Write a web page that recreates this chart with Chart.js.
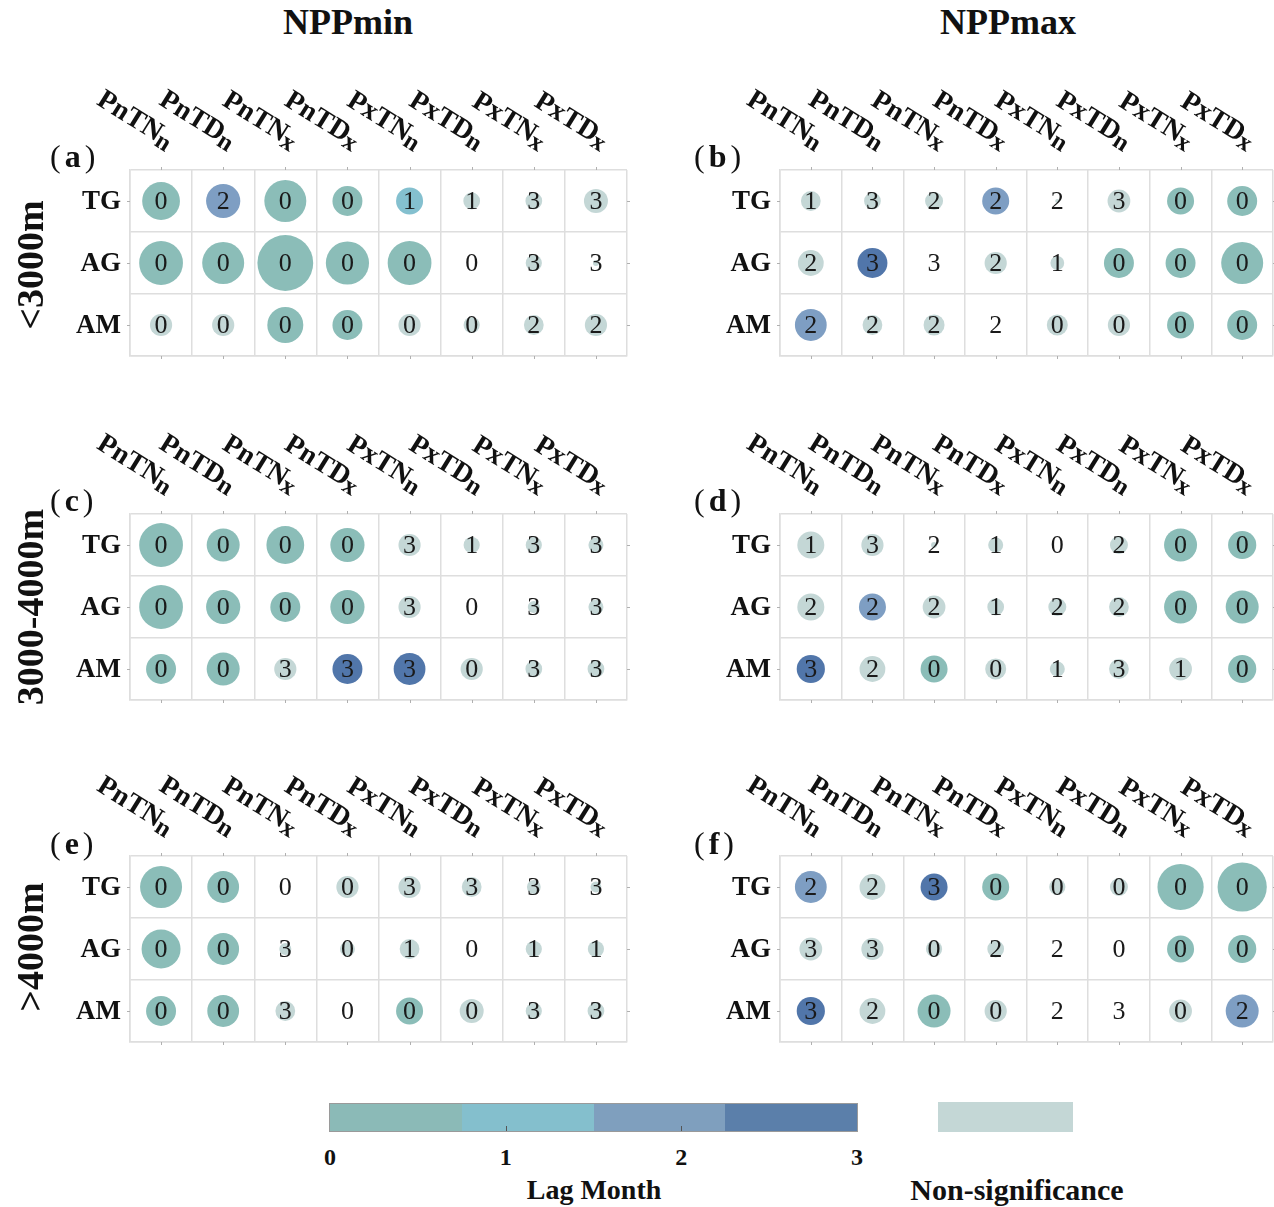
<!DOCTYPE html>
<html lang="en">
<head>
<meta charset="UTF-8">
<title>Lag month of NPP response</title>
<script src="https://cdn.jsdelivr.net/npm/chart.js"></script>
<style>
  body { margin: 0; background: #fff; }
  #wrap { position: relative; width: 1274px; height: 1207px; overflow: hidden;
          font-family: "Liberation Serif", "Times New Roman", serif; color: #111; }
  #wrap canvas { position: absolute; }
  .txt { position: absolute; white-space: nowrap; line-height: 1; }
  .title { font-weight: bold; font-size: 36px; transform: translate(-50%, -50%); }
  .group { font-weight: bold; font-size: 38px; transform: translate(-50%, -50%) rotate(-90deg); }
  .plab { font-size: 32px; letter-spacing: 4px; transform: translateY(-50%); }
  .plab b { font-weight: bold; }
  .cb { position: absolute; }
  .cbtick { position: absolute; font-weight: bold; font-size: 24px; transform: translate(-50%, -50%); line-height: 1; }
  .cbtitle { position: absolute; font-weight: bold; font-size: 28px; transform: translate(-50%, -50%); line-height: 1; }
</style>
</head>
<body>
<div id="wrap">
  <canvas id="pa" width="640" height="290" style="left:0;top:80px"></canvas>
  <canvas id="pb" width="634" height="290" style="left:640px;top:80px"></canvas>
  <canvas id="pc" width="640" height="290" style="left:0;top:424px"></canvas>
  <canvas id="pd" width="634" height="290" style="left:640px;top:424px"></canvas>
  <canvas id="pe" width="640" height="290" style="left:0;top:766px"></canvas>
  <canvas id="pf" width="634" height="290" style="left:640px;top:766px"></canvas>

  <div class="txt title" style="left:348px;top:22px">NPPmin</div>
  <div class="txt title" style="left:1008px;top:22px">NPPmax</div>

  <div class="txt group" style="left:30px;top:265px">&lt;3000m</div>
  <div class="txt group" style="left:30px;top:607px">3000-4000m</div>
  <div class="txt group" style="left:30px;top:947px">&gt;4000m</div>

  <div class="txt plab" style="left:50px;top:156px">(<b>a</b>)</div>
  <div class="txt plab" style="left:694px;top:156px">(<b>b</b>)</div>
  <div class="txt plab" style="left:50px;top:500px">(<b>c</b>)</div>
  <div class="txt plab" style="left:694px;top:500px">(<b>d</b>)</div>
  <div class="txt plab" style="left:50px;top:843px">(<b>e</b>)</div>
  <div class="txt plab" style="left:694px;top:843px">(<b>f</b>)</div>

  <div id="legend"></div>
</div>

<script>
// categories
const columns = ['PnTNn', 'PnTDn', 'PnTNx', 'PnTDx', 'PxTNn', 'PxTDn', 'PxTNx', 'PxTDx'];
const rows = ['TG', 'AG', 'AM'];
const lagTicks = ['0', '1', '2', '3'];

// lag month (number in each cell), rows TG / AG / AM
const lagA = [[0,2,0,0,1,1,3,3],[0,0,0,0,0,0,3,3],[0,0,0,0,0,0,2,2]];
const lagB = [[1,3,2,2,2,3,0,0],[2,3,3,2,1,0,0,0],[2,2,2,2,0,0,0,0]];
const lagC = [[0,0,0,0,3,1,3,3],[0,0,0,0,3,0,3,3],[0,0,3,3,3,0,3,3]];
const lagD = [[1,3,2,1,0,2,0,0],[2,2,2,1,2,2,0,0],[3,2,0,0,1,3,1,0]];
const lagE = [[0,0,0,0,3,3,3,3],[0,0,3,0,1,0,1,1],[0,0,3,0,0,0,3,3]];
const lagF = [[2,2,3,0,0,0,0,0],[3,3,0,2,2,0,0,0],[3,2,0,0,2,3,0,2]];

// significance (1 = significant, 0 = non-significance)
const sigA = [[1,1,1,1,1,0,0,0],[1,1,1,1,1,0,0,0],[0,0,1,1,0,0,0,0]];
const sigB = [[0,0,0,1,0,0,1,1],[0,1,0,0,0,1,1,1],[1,0,0,0,0,0,1,1]];
const sigC = [[1,1,1,1,0,0,0,0],[1,1,1,1,0,0,0,0],[1,1,0,1,1,0,0,0]];
const sigD = [[0,0,0,0,0,0,1,1],[0,1,0,0,0,0,1,1],[1,0,1,0,0,0,0,1]];
const sigE = [[1,1,0,0,0,0,0,0],[1,1,0,0,0,0,0,0],[1,1,0,0,1,0,0,0]];
const sigF = [[1,0,1,1,0,0,1,1],[0,0,0,0,0,0,1,1],[1,0,1,0,0,0,0,1]];

// correlation strength (bubble size)
const corrA = [[.63,.57,.70,.50,.45,.28,.28,.40],[.73,.70,.93,.72,.73,0,.27,.10],[.37,.37,.60,.50,.37,.27,.33,.37]];
const corrB = [[.33,.28,.30,.45,.07,.38,.45,.50],[.43,.50,0,.37,.23,.50,.50,.70],[.53,.33,.35,0,.35,.37,.45,.50]];
const corrC = [[.73,.55,.63,.57,.37,.27,.27,.25],[.73,.57,.50,.57,.37,0,.20,.25],[.50,.55,.37,.50,.53,.37,.28,.28]];
const corrD = [[.45,.37,.10,.25,0,.30,.55,.47],[.45,.45,.38,.28,.30,.33,.55,.55],[.47,.43,.45,.35,.25,.33,.38,.47]];
const corrE = [[.70,.53,0,.37,.37,.33,.23,.18],[.65,.53,.20,.25,.33,0,.27,.27],[.50,.53,.33,0,.45,.40,.27,.28]];
const corrF = [[.53,.43,.45,.45,.27,.30,.77,.82],[.38,.37,.27,.28,0,0,.45,.47],[.47,.43,.55,.37,0,0,.38,.55]];

const lagColors = ['#8bbdb8', '#84c0cf', '#7e9ec3', '#5176aa'];
const barColors = ['#8bbab7', '#84bfcd', '#7f9fbe', '#5b7faa'];
const nonSigColor = '#c4d7d6';
const FONT = '"Liberation Serif", "Times New Roman", serif';

// column labels, row labels and numbers in the cells
const cellText = {
  id: 'cellText',
  afterDraw(chart) {
    const ctx = chart.ctx, xs = chart.scales.x, ys = chart.scales.y, a = chart.chartArea;
    ctx.save();
    // small tick marks on the frame
    ctx.strokeStyle = '#b0b0b0';
    ctx.lineWidth = 1;
    ctx.beginPath();
    columns.forEach((c, i) => {
      const x = Math.round(xs.getPixelForValue(i + 0.5)) + 0.5;
      ctx.moveTo(x, a.top - 3); ctx.lineTo(x, a.top);
      ctx.moveTo(x, a.bottom); ctx.lineTo(x, a.bottom + 3);
    });
    rows.forEach((r, j) => {
      const y = Math.round(ys.getPixelForValue(j + 0.5)) + 0.5;
      ctx.moveTo(a.left - 3, y); ctx.lineTo(a.left, y);
      ctx.moveTo(a.right, y); ctx.lineTo(a.right + 3, y);
    });
    ctx.stroke();

    ctx.fillStyle = '#111';
    // rotated column labels, last letter as subscript
    columns.forEach((c, i) => {
      const x = xs.getPixelForValue(i + 0.5);
      ctx.save();
      ctx.translate(x + 4, a.top - 18);
      ctx.rotate(32 * Math.PI / 180);
      ctx.textAlign = 'right';
      ctx.textBaseline = 'alphabetic';
      ctx.font = 'bold 25px ' + FONT;
      const sub = c.slice(-1);
      const sw = ctx.measureText(sub).width;
      ctx.fillText(sub, 0, 0);
      ctx.font = 'bold 28px ' + FONT;
      ctx.fillText(c.slice(0, -1), -sw + 1, -4);
      ctx.restore();
    });
    // row labels
    ctx.font = 'bold 27px ' + FONT;
    ctx.textAlign = 'right';
    ctx.textBaseline = 'middle';
    rows.forEach((r, j) => ctx.fillText(r, a.left - 9, ys.getPixelForValue(j + 0.5) + 1));
    // lag numbers
    ctx.font = '26px ' + FONT;
    ctx.textAlign = 'center';
    ctx.fillStyle = '#1a1a1a';
    chart.data.datasets[0].data.forEach(p => {
      ctx.fillText(String(p.lag), xs.getPixelForValue(p.x), ys.getPixelForValue(p.y) + 1);
    });
    ctx.restore();
  }
};

function makePanel(id, lag, sig, corr, padLeft, padRight) {
  const pts = [];
  lag.forEach((row, r) => row.forEach((v, c) => {
    pts.push({ x: c + 0.5, y: r + 0.5, r: corr[r][c] * 30, lag: v, sig: sig[r][c] });
  }));
  new Chart(document.getElementById(id), {
    type: 'bubble',
    data: {
      datasets: [{
        data: pts,
        backgroundColor: ctx => {
          const p = ctx.raw;
          if (!p) return nonSigColor;
          return p.sig ? lagColors[p.lag] : nonSigColor;
        },
        borderWidth: 0
      }]
    },
    options: {
      responsive: false,
      animation: false,
      events: [],
      layout: { autoPadding: false, padding: { left: padLeft, right: padRight, top: 90, bottom: 14 } },
      plugins: { legend: { display: false }, tooltip: { enabled: false } },
      scales: {
        x: {
          type: 'linear', min: 0, max: 8,
          ticks: { display: false, stepSize: 1 },
          grid: { color: '#dedede', lineWidth: 1.5, drawTicks: false },
          border: { color: '#dedede', width: 1.5 }
        },
        y: {
          type: 'linear', min: 0, max: 3, reverse: true,
          ticks: { display: false, stepSize: 1 },
          grid: { color: '#dedede', lineWidth: 1.5, drawTicks: false },
          border: { color: '#dedede', width: 1.5 }
        }
      }
    },
    plugins: [cellText]
  });
}

makePanel('pa', lagA, sigA, corrA, 130, 13);
makePanel('pb', lagB, sigB, corrB, 140, 1);
makePanel('pc', lagC, sigC, corrC, 130, 13);
makePanel('pd', lagD, sigD, corrD, 140, 1);
makePanel('pe', lagE, sigE, corrE, 130, 13);
makePanel('pf', lagF, sigF, corrF, 140, 1);

// colour bar legend
const legend = document.getElementById('legend');
const barLeft = 330, barRight = 857, barTop = 1104, barH = 27;
const segW = (barRight - barLeft) / barColors.length;
let html = '<div class="cb" style="left:' + (barLeft - 1) + 'px;top:' + (barTop - 1) + 'px;width:' +
  (barRight - barLeft + 2) + 'px;height:' + (barH + 2) + 'px;background:#9a9a9a"></div>';
barColors.forEach((c, i) => {
  html += '<div class="cb" style="left:' + (barLeft + i * segW) + 'px;top:' + barTop + 'px;width:' +
    Math.ceil(segW) + 'px;height:' + barH + 'px;background:' + c + '"></div>';
});
lagTicks.forEach((t, i) => {
  const x = barLeft + i * (barRight - barLeft) / (lagTicks.length - 1);
  if (i > 0 && i < lagTicks.length - 1) {
    html += '<div class="cb" style="left:' + x + 'px;top:' + (barTop + barH - 5) + 'px;width:1px;height:5px;background:#555"></div>';
  }
  html += '<div class="cbtick" style="left:' + x + 'px;top:1157px">' + t + '</div>';
});
html += '<div class="cbtitle" style="left:594px;top:1190px">Lag Month</div>';
html += '<div class="cb" style="left:938px;top:1102px;width:135px;height:30px;background:' + nonSigColor + '"></div>';
html += '<div class="cbtitle" style="left:1017px;top:1190px;font-size:30px">Non-significance</div>';
legend.innerHTML = html;
</script>
</body>
</html>
